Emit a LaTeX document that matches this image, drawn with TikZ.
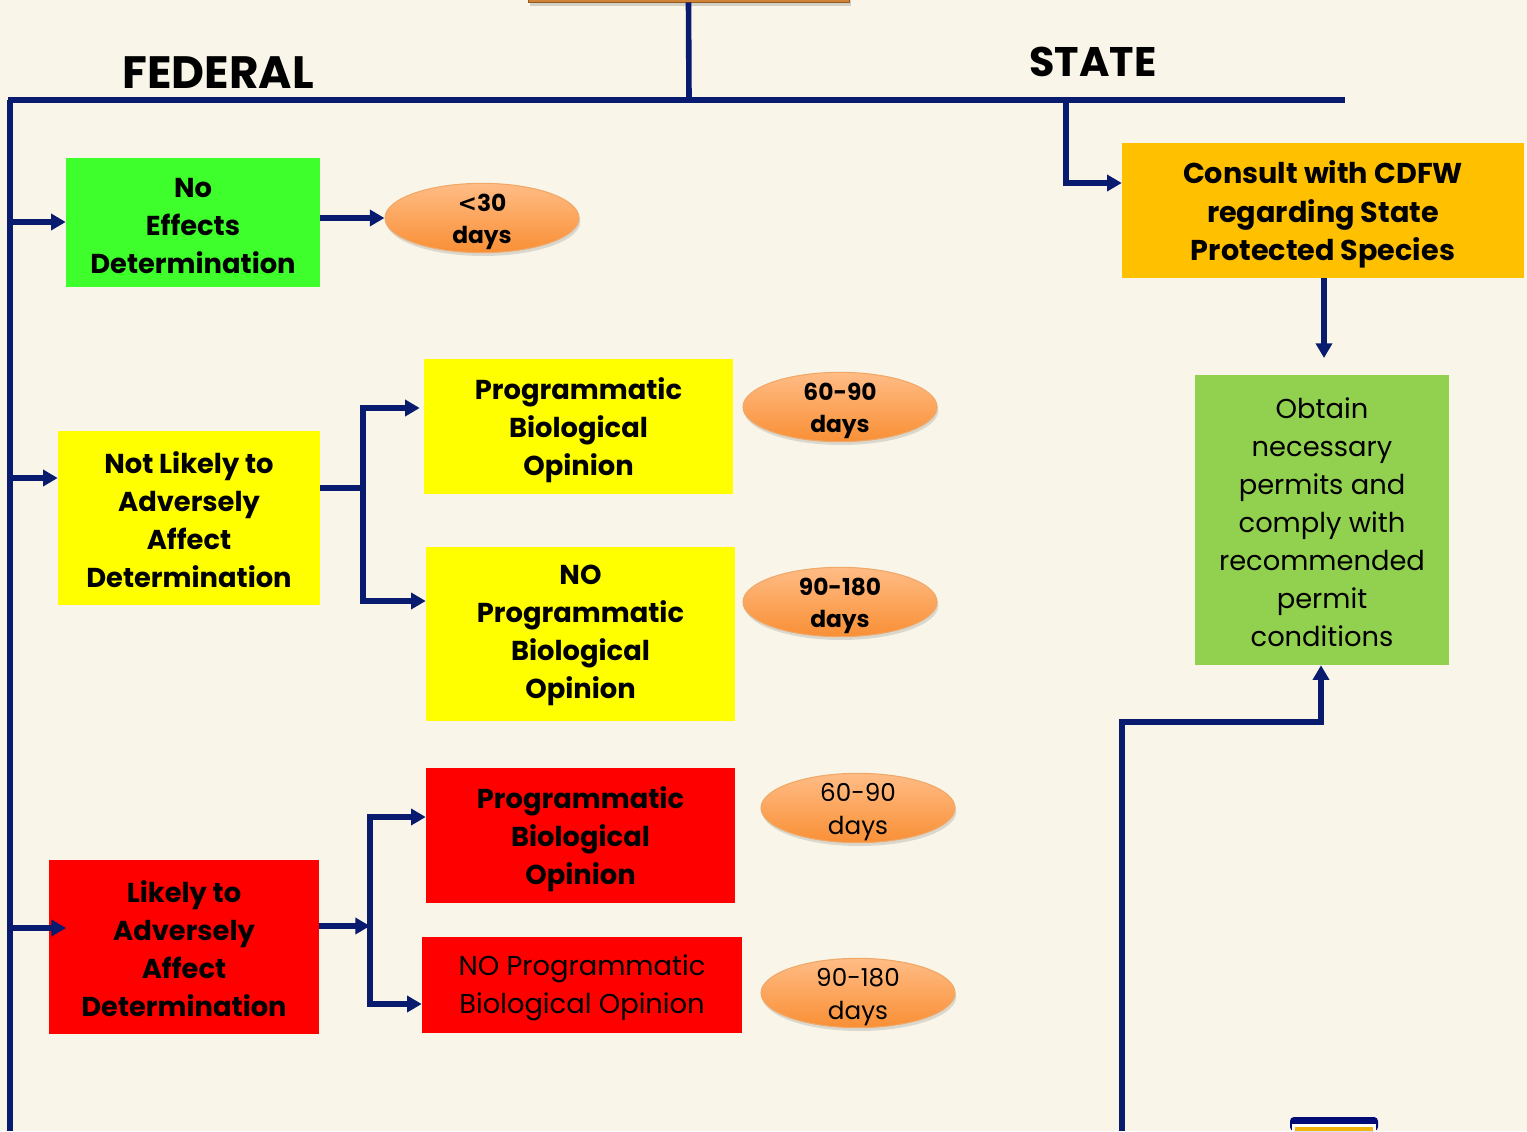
\documentclass[tikz,border=0pt]{standalone}
\usepackage{fontspec}
\setmainfont{Poppins}
\newfontfamily\djv{DejaVu Sans}
\usetikzlibrary{arrows.meta,fit,shadows,positioning,calc,shapes.geometric}
\definecolor{bgc}{HTML}{F9F6E9}
\definecolor{navy}{HTML}{081B6E}
\definecolor{gA}{HTML}{3EFF2B}
\definecolor{gB}{HTML}{92D050}
\definecolor{yel}{HTML}{FFFF00}
\definecolor{rd}{HTML}{FF0000}
\definecolor{orb}{HTML}{FFC000}
\definecolor{eltop}{HTML}{FFBC85}
\definecolor{elbot}{HTML}{F98F35}
\definecolor{elbd}{HTML}{F0A868}
\definecolor{topbox}{HTML}{D08236}
\tikzset{
  x=0.75pt, y=-0.75pt,
  conn/.style={draw=navy, line width=4.2pt},
  arr/.style={conn, -{Triangle[length=11pt,width=12pt]}},
  bx/.style={inner sep=0pt, align=center, yshift=-3pt, font=\fontsize{20.5}{28.5}\selectfont\bfseries},
  bxr/.style={inner sep=0pt, align=center, yshift=-2pt, font=\fontsize{20.5}{28.5}\selectfont},
  bg/.style={inner sep=0pt},
  el/.style={ellipse, draw=elbd, line width=0.8pt, top color=eltop, bottom color=elbot,
     minimum width=145.5pt, minimum height=52pt, inner sep=0pt,
     drop shadow={shadow xshift=1pt, shadow yshift=-2.5pt, opacity=0.25}},
  elt/.style={inner sep=0pt, align=center, yshift=-3pt, font=\fontsize{17.5}{24.5}\selectfont\bfseries},
  eltr/.style={elt, font=\fontsize{18.5}{24.5}\selectfont},
  ttl/.style={font=\fontsize{34}{40}\selectfont\bfseries, inner sep=0pt}
}
\begin{document}
\begin{tikzpicture}
\useasboundingbox (0,0) rectangle (1527,1131);
\fill[bgc] (0,0) rectangle (1527,1131);
% top box strip
\fill[black, opacity=0.15] (530,-5) rectangle (851,6);
\node[bg, fit={(528,-10) (849,2)}, fill=topbox, draw=topbox!70!black, line width=0.6pt] (top) {};
% titles
\node[ttl] (fed) at (218,73) {FEDERAL};
\node[ttl, font=\fontsize{31}{40}\selectfont\bfseries] (st) at (1093,62) {STATE};
% boxes
\node[bg, fit={(66,158) (320,287)}, fill=gA] (ne) {};
\node[bx] at (ne.center) {No\\Effects\\Determination};
\node[bg, fit={(58,431) (320,605)}, fill=yel] (nl) {};
\node[bx, yshift=2pt] at (nl.center) {Not Likely to\\Adversely\\Affect\\Determination};
\node[bg, fit={(424,359) (733,494)}, fill=yel] (pb1) {};
\node[bx] at (pb1.center) {Programmatic\\Biological\\Opinion};
\node[bg, fit={(426,547) (735,721)}, fill=yel] (np1) {};
\node[bx, yshift=2pt] at (np1.center) {NO\\Programmatic\\Biological\\Opinion};
\node[bg, fit={(49,860) (319,1034)}, fill=rd] (la) {};
\node[bx, yshift=2pt] at (la.center) {Likely to\\Adversely\\Affect\\Determination};
\node[bg, fit={(426,768) (735,903)}, fill=rd] (pb2) {};
\node[bx] at (pb2.center) {Programmatic\\Biological\\Opinion};
\node[bg, fit={(422,937) (742,1033)}, fill=rd] (np2) {};
\node[bxr] at (np2.center) {NO Programmatic\\Biological Opinion};
\node[bg, fit={(1122,143) (1524,278)}, fill=orb] (cs) {};
\node[bx, font=\fontsize{21.5}{29}\selectfont\bfseries] at (cs.center) {Consult with CDFW\\regarding State\\Protected Species};
\node[bg, fit={(1195,375) (1449,665)}, fill=gB] (ob) {};
\node[bxr] at (ob.center) {Obtain\\necessary\\permits and\\comply with\\recommended\\permit\\conditions};
% ellipses
\node[el] (e1) at (482,218) {};
\node[elt] at (e1.center) {{\djv\bfseries <}30\\days};
\node[el] (e2) at (840,407) {};
\node[elt] at (e2.center) {60-90\\days};
\node[el] (e3) at (840,602) {};
\node[elt] at (e3.center) {90-180\\days};
\node[el] (e4) at (858,808) {};
\node[eltr] at (e4.center) {60-90\\days};
\node[el] (e5) at (858,993) {};
\node[eltr] at (e5.center) {90-180\\days};
% coordinates
\coordinate (tj) at (689,100);
\coordinate (hl) at (8,100);
\coordinate (hr) at (1345,100);
\coordinate (lb) at (10,1131);
\coordinate (t1) at (10,222);
\coordinate (t2) at (10,478);
\coordinate (t3) at (10,928);
\coordinate (sj) at (1066,100);
\coordinate (s1) at (1066,183);
\coordinate (j1) at (363,488);
\coordinate (j2) at (370,926);
\coordinate (rb) at (1122,1131);
\coordinate (rk) at (1122,722);
\coordinate (rk2) at (1321,722);
% trunk lines
\draw[conn] (top.south) -- (tj);
\draw[conn] (hl) -- (hr);
\draw[conn] (10,100) -- (lb);
\draw[arr] (t1) -- (ne.west |- t1);
\draw[arr] (t2) -- (nl.west |- t2);
\draw[arr] (t3) -- ([xshift=13pt]la.west |- t3);
\draw[arr] (ne.east |- e1) -- (e1.west);
% not likely branch
\draw[conn] (nl.east |- j1) -- (j1);
\draw[arr] (363,601) -- (363,408) -- ([xshift=-3pt]pb1.west |- 0,408);
\draw[arr] (j1) |- (np1.west |- 0,601);
% likely branch
\draw[arr] (la.east |- j2) -- (j2);
\draw[arr] (370,1004) -- (370,817) -- (pb2.west |- 0,817);
\draw[arr] (j2) |- (np2.west |- 0,1004);
% state
\draw[arr] (sj) -- (s1) -- (cs.west |- s1);
\draw[arr] (cs.south -| 1324,0) -- (1324,358);
\draw[arr] (rb) -- (rk) -- (rk2) -- (ob.south -| rk2);
% partial logo
\fill[navy!60!blue!70!black, rounded corners=3pt] (1290,1131) rectangle (1378,1117);
\fill[white] (1292,1131) rectangle (1376,1124);
\fill[orb!80!brown] (1295,1131) rectangle (1373,1127);
\end{tikzpicture}
\end{document}
